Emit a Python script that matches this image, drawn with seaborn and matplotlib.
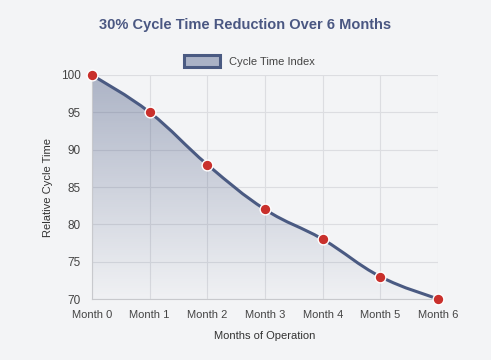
import numpy as np
import pandas as pd
import seaborn as sns
import matplotlib.pyplot as plt
from matplotlib.path import Path
from matplotlib.patches import PathPatch, Patch
from matplotlib.colors import LinearSegmentedColormap

months = ["Month 0", "Month 1", "Month 2", "Month 3", "Month 4", "Month 5", "Month 6"]
cycle_index = [100, 95, 88, 82, 78, 73, 70]

BG = "#f3f4f6"
LINE = "#4a5a82"
DOT = "#c9302c"
GRID = "#dcdde1"


def bezier_vertices(xs, ys, tension=0.4):
    """Chart.js-like smooth path through the points (cubic bezier segments)."""
    n = len(xs)
    cps = []
    for i in range(n):
        p0 = (xs[max(i - 1, 0)], ys[max(i - 1, 0)])
        p2 = (xs[min(i + 1, n - 1)], ys[min(i + 1, n - 1)])
        dx, dy = p2[0] - p0[0], p2[1] - p0[1]
        f = tension / 2
        cps.append(((xs[i] - f * dx, ys[i] - f * dy), (xs[i] + f * dx, ys[i] + f * dy)))
    verts = [(xs[0], ys[0])]
    codes = [Path.MOVETO]
    for i in range(n - 1):
        verts += [cps[i][1], cps[i + 1][0], (xs[i + 1], ys[i + 1])]
        codes += [Path.CURVE4] * 3
    return verts, codes


df = pd.DataFrame({"x": np.arange(len(months)), "y": cycle_index})

sns.set_style("white")
plt.rcParams["font.family"] = ["Liberation Sans", "DejaVu Sans"]

fig = plt.figure(figsize=(4.91, 3.6), dpi=100, facecolor=BG)
ax = fig.add_axes([0.1874, 0.1694, 0.7046, 0.6223])
ax.set_facecolor(BG)

ax.set_xlim(0, 6)
ax.set_ylim(70, 100)

verts, codes = bezier_vertices(df["x"].tolist(), df["y"].tolist())

# gradient area under the curve
fill_verts = verts + [(df["x"].iloc[-1], 70), (df["x"].iloc[0], 70), verts[0]]
fill_codes = codes + [Path.LINETO, Path.LINETO, Path.CLOSEPOLY]
fill_patch = PathPatch(Path(fill_verts, fill_codes), facecolor="none", edgecolor="none")
ax.add_patch(fill_patch)
cmap = LinearSegmentedColormap.from_list("fade", [(0.29, 0.35, 0.51, 0.02), (0.29, 0.35, 0.51, 0.42)])
grad = np.linspace(0, 1, 256).reshape(-1, 1)
img = ax.imshow(grad, cmap=cmap, extent=[0, 6, 70, 100], origin="lower",
                aspect="auto", zorder=1)
img.set_clip_path(fill_patch)

# smooth line
ax.add_patch(PathPatch(Path(verts, codes), facecolor="none", edgecolor=LINE,
                       linewidth=2.2, zorder=3, capstyle="round"))

sns.scatterplot(data=df, x="x", y="y", ax=ax, color=DOT, s=60,
                edgecolor="white", linewidth=1.0, zorder=4, clip_on=False)

ax.set_xticks(df["x"])
ax.set_xticklabels(months)
ax.set_yticks(range(70, 101, 5))
ax.grid(True, color=GRID, linewidth=0.8, zorder=0)
ax.set_axisbelow(True)
for side in ["top", "right"]:
    ax.spines[side].set_visible(False)
for side in ["left", "bottom"]:
    ax.spines[side].set_color("#c8c9cd")
    ax.spines[side].set_linewidth(0.8)
ax.tick_params(axis="both", length=6, color=GRID, labelsize=8, labelcolor="#444444", pad=2)
ax.tick_params(axis="y", labelsize=8.5)

ax.set_xlabel("Months of Operation", fontsize=8, color="#333333", labelpad=8)
ax.set_ylabel("Relative Cycle Time", fontsize=8, color="#333333", labelpad=6)

fig.text(0.5, 0.93, "30% Cycle Time Reduction Over 6 Months", ha="center", va="center",
         fontsize=10.5, fontweight="bold", color="#4a5782")

handle = Patch(facecolor="#aab2c6", edgecolor=LINE, linewidth=2.2, label="Cycle Time Index")
fig.legend(handles=[handle], loc="center", bbox_to_anchor=(0.508, 0.83), frameon=False,
           fontsize=8, handlelength=3.2, handleheight=1.2, handletextpad=0.8,
           labelcolor="#444444")

plt.savefig("out.png", dpi=100, facecolor=BG)
